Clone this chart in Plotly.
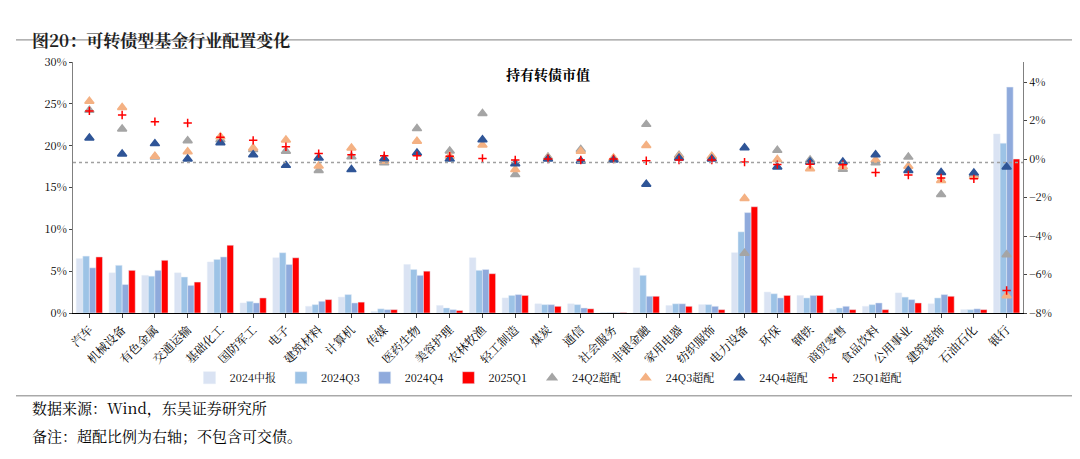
import plotly.graph_objects as go

industries = ['汽车', '机械设备', '有色金属', '交通运输', '基础化工', '国防军工', '电子', '建筑材料', '计算机', '传媒',
              '医药生物', '美容护理', '农林牧渔', '轻工制造', '煤炭', '通信', '社会服务', '非银金融', '家用电器', '纺织服饰',
              '电力设备', '环保', '钢铁', '商贸零售', '食品饮料', '公用事业', '建筑装饰', '石油石化', '银行']

# holdings share (%), left axis
h24h1 = [6.5, 4.8, 4.5, 4.8, 6.1, 1.2, 6.6, 0.8, 1.9, 0.2, 5.8, 0.9, 6.6, 1.8, 1.1, 1.1, 0.05, 5.4, 0.9, 1.0,
         7.2, 2.5, 2.1, 0.4, 0.8, 2.4, 1.1, 0.4, 21.4]
h24q3 = [6.8, 5.7, 4.4, 4.3, 6.4, 1.4, 7.2, 1.0, 2.2, 0.5, 5.2, 0.6, 5.1, 2.1, 1.0, 1.0, 0.05, 4.5, 1.1, 1.0,
         9.7, 2.3, 1.8, 0.6, 1.0, 1.9, 1.8, 0.4, 20.3]
h24q4 = [5.4, 3.4, 5.1, 3.3, 6.7, 1.2, 5.8, 1.4, 1.2, 0.4, 4.5, 0.4, 5.2, 2.2, 1.0, 0.6, 0.05, 2.0, 1.1, 0.8,
         12.0, 1.8, 2.1, 0.8, 1.2, 1.6, 2.2, 0.5, 27.0]
h25q1 = [6.7, 5.1, 6.3, 3.7, 8.1, 1.8, 6.6, 1.6, 1.3, 0.4, 5.0, 0.3, 4.7, 2.1, 0.8, 0.5, 0.05, 2.0, 0.8, 0.4,
         12.7, 2.1, 2.1, 0.4, 0.4, 1.2, 2.0, 0.4, 18.4]

# over-allocation (%), right axis
ov24q2 = [2.53, 1.56, 0.1, 0.95, 1.0, 0.5, 0.4, -0.6, 0.12, -0.2, 1.58, 0.42, 2.37, -0.81, 0.1, 0.5, 0.0, 1.8, 0.2, 0.1,
          -4.9, 0.45, -0.05, -0.53, -0.2, 0.1, -1.84, -0.8, -4.97]
ov24q3 = [3.0, 2.68, 0.14, 0.38, 1.16, 0.57, 0.99, -0.36, 0.57, -0.1, 0.92, 0.14, 0.73, -0.55, 0.05, 0.4, 0.05, 0.7, 0.15, 0.15,
          -2.05, -0.03, -0.5, -0.4, -0.05, -0.38, -1.12, -0.9, -7.1]
ov24q4 = [1.09, 0.26, 0.8, 0.0, 0.85, 0.22, -0.33, 0.05, -0.55, 0.02, 0.31, 0.0, 1.0, -0.24, 0.0, -0.1, -0.05, -1.31, 0.05, 0.0,
          0.59, -0.41, -0.15, -0.15, 0.22, -0.6, -0.7, -0.72, -0.41]
ov25q1 = [2.5, 2.29, 1.94, 1.87, 1.13, 0.97, 0.64, 0.28, 0.22, 0.17, 0.17, 0.14, 0.03, -0.05, 0.0, -0.05, 0.0, -0.09, -0.05, -0.05,
          -0.16, -0.29, -0.27, -0.3, -0.7, -0.83, -0.98, -1.03, -6.83]

font = 'Noto Serif CJK SC, Noto Sans CJK SC, serif'
fig = go.Figure()

for name, vals, color in [('2024中报', h24h1, '#DAE3F3'), ('2024Q3', h24q3, '#9DC3E6'),
                          ('2024Q4', h24q4, '#8FAADC'), ('2025Q1', h25q1, '#FF0000')]:
    fig.add_trace(go.Bar(x=industries, y=vals, name=name, marker_color=color))

for name, vals, color, sym, size in [('24Q2超配', ov24q2, '#A5A5A5', 'triangle-up', 8),
                                     ('24Q3超配', ov24q3, '#F4B183', 'triangle-up', 8),
                                     ('24Q4超配', ov24q4, '#2F5597', 'triangle-up', 8),
                                     ('25Q1超配', ov25q1, '#FF0000', 'cross-thin', 6)]:
    fig.add_trace(go.Scatter(x=industries, y=vals, name=name, mode='markers', yaxis='y2',
                             marker=dict(symbol=sym, color=color, size=size,
                                         line=dict(color=color, width=1.5))))

fig.add_hline(y=18, line=dict(color='#A0A0A0', width=1.5, dash='dot'))

fig.update_layout(
    width=1080, height=459, barmode='group', bargap=0.2, bargroupgap=0,
    paper_bgcolor='white', plot_bgcolor='white',
    font=dict(family=font, size=12, color='black'),
    margin=dict(l=65, r=65, t=54, b=154, autoexpand=False),
    xaxis=dict(tickangle=-45, showline=True, linecolor='black', ticks='outside', ticklen=4,
               tickfont=dict(size=12), automargin=False, range=[-0.5, len(industries) - 0.5]),
    yaxis=dict(range=[0, 30], dtick=5, ticksuffix='%', showgrid=False, showline=True,
               linecolor='#808080', ticks='outside', ticklen=3, tickfont=dict(size=11), automargin=False),
    yaxis2=dict(range=[-8, 5.04], dtick=2, ticksuffix='%', overlaying='y', side='right',
                showgrid=False, showline=True, linecolor='#808080', ticks='outside', ticklen=3,
                zeroline=False, tickfont=dict(size=11), automargin=False),
    legend=dict(orientation='h', x=0.5, xanchor='center', y=-0.2, yanchor='top',
                font=dict(size=11), itemwidth=30, tracegroupgap=0),
    showlegend=True,
)

fig.add_annotation(text='<b>持有转债市值</b>', x=0.5, y=1.0, xref='paper', yref='paper',
                   showarrow=False, yanchor='top', font=dict(size=14))
fig.add_annotation(text='<b>图20：可转债型基金行业配置变化</b>', x=-0.045, y=1.147, xref='paper', yref='paper',
                   xanchor='left', showarrow=False, font=dict(size=17, color='#1F1F1F'))
fig.add_annotation(text='数据来源：Wind，东吴证券研究所', x=-0.045, y=-0.426, xref='paper', yref='paper',
                   xanchor='left', showarrow=False, font=dict(size=15))
fig.add_annotation(text='备注：超配比例为右轴；不包含可交债。', x=-0.045, y=-0.538, xref='paper', yref='paper',
                   xanchor='left', showarrow=False, font=dict(size=15))
fig.add_shape(type='line', xref='paper', yref='paper', x0=-0.06, x1=1.06, y0=1.088, y1=1.088,
              line=dict(color='#7F7F7F', width=1))
fig.add_shape(type='line', xref='paper', yref='paper', x0=-0.06, x1=1.06, y0=-0.33, y1=-0.33,
              line=dict(color='#7F7F7F', width=1))

fig.write_html('out.html')
